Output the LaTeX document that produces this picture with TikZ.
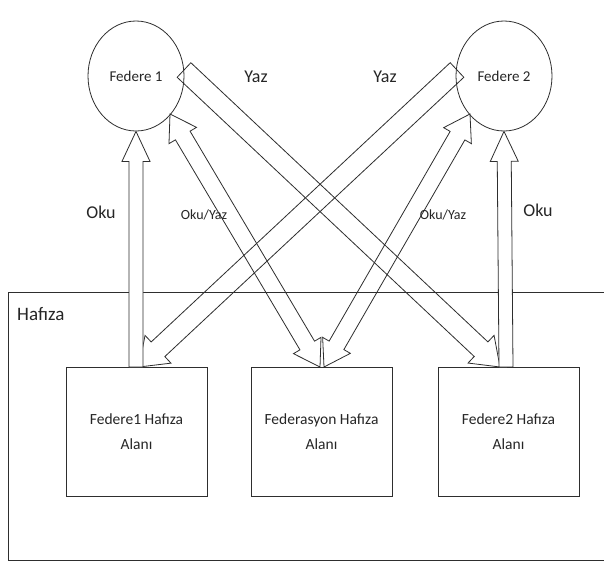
\documentclass[tikz,border=0pt]{standalone}
\usepackage{fontspec}
\setmainfont{Carlito}
\usetikzlibrary{calc,shapes.geometric}

% block arrow with one head: start, tip, half shaft, half head, head length
\newcommand{\blockarrowone}[6][]{%
  \coordinate (hbase) at ($(#3)!#6!(#2)$);
  \draw[blk,#1] ($(#2)!#4!90:(#3)$) -- ($(hbase)!#4!90:(#3)$) -- ($(hbase)!#5!90:(#3)$)
    -- (#3) -- ($(hbase)!#5!-90:(#3)$) -- ($(hbase)!#4!-90:(#3)$)
    -- ($(#2)!#4!-90:(#3)$) -- cycle;}
% block arrow with two heads: tip, tip, half shaft, half head, head length
\newcommand{\blockarrowtwo}[6][]{%
  \coordinate (hla) at ($(#2)!#6!(#3)$);
  \coordinate (hlb) at ($(#3)!#6!(#2)$);
  \draw[blk,#1] (#2) -- ($(hla)!#5!90:(#3)$) -- ($(hla)!#4!90:(#3)$)
    -- ($(hlb)!#4!90:(#3)$) -- ($(hlb)!#5!90:(#3)$) -- (#3)
    -- ($(hlb)!#5!-90:(#3)$) -- ($(hlb)!#4!-90:(#3)$)
    -- ($(hla)!#4!-90:(#3)$) -- ($(hla)!#5!-90:(#3)$) -- cycle;}

\begin{document}
\begin{tikzpicture}[x=1pt,y=-1pt,
  ink/.style={draw=black!82,line width=0.8pt},
  blk/.style={ink,line join=miter},
  fed/.style={ink,ellipse,minimum width=96pt,minimum height=110pt,inner sep=0pt,
    font=\fontsize{15}{18}\selectfont,text=black!85},
  area/.style={ink,rectangle,minimum width=141pt,minimum height=129pt,inner sep=0pt,
    align=center,font=\fontsize{15.5}{25}\selectfont,text=black!85},
  lab/.style={inner sep=0pt,text=black!85},
  big/.style={lab,font=\fontsize{18}{20}\selectfont},
  small/.style={lab,font=\fontsize{14}{16}\selectfont}]
\useasboundingbox (0,0) rectangle (604,562);
\fill[white] (0,0) rectangle (604,562);

% memory frame
\draw[ink] (8,292) -- (608,292) (8,292) -- (8,560) -- (608,560);
\node[lab,anchor=west,font=\fontsize{19}{20}\selectfont] (mem) at (17,314) {Hafıza};

% federates
\node[fed] (f1) at (136,76) {Federe 1};
\node[fed] (f2) at (504,76) {Federe 2};

% memory areas
\node[area] (b1) at (136.5,431.5) {Federe1 Hafıza\\Alanı};
\node[area] (b2) at (321.5,431.5) {Federasyon Hafıza\\Alanı};
\node[area] (b3) at (508.5,431.5) {Federe2 Hafıza\\Alanı};

% arrow end points
\coordinate (y1s) at (184,70);
\coordinate (y1e) at (500,367);
\coordinate (y2s) at (457,70);
\coordinate (y2e) at (139,367);
\coordinate (o1a) at (170,114);
\coordinate (o1b) at (320,367);
\coordinate (o2a) at (470,114);
\coordinate (o2b) at (324,367);
\coordinate (v1a) at (136,367);
\coordinate (v1b) at (f1.south);
\coordinate (v2a) at (506,367);
\coordinate (v2b) at (f2.south);

% write arrows
\blockarrowone{y1s}{y1e}{10pt}{19pt}{26pt}
\blockarrowone{y2s}{y2e}{10pt}{19pt}{26pt}
% read/write arrows
\blockarrowtwo{o1a}{o1b}{8.5pt}{16pt}{25pt}
\blockarrowtwo{o2a}{o2b}{8.5pt}{16pt}{25pt}
% read arrows
\blockarrowone[fill=white]{v1a}{v1b}{7pt}{14pt}{30pt}
\blockarrowone[fill=white]{v2a}{v2b}{7pt}{14pt}{30pt}

% labels
\node[big] (ly1) at (256,77) {Yaz};
\node[big] (ly2) at (385,77) {Yaz};
\node[big] (lo1) at (101,212) {Oku};
\node[big] (lo2) at (538,210) {Oku};
\node[small] (loy1) at (204,215) {Oku/Yaz};
\node[small] (loy2) at (443,215) {Oku/Yaz};
\end{tikzpicture}
\end{document}
